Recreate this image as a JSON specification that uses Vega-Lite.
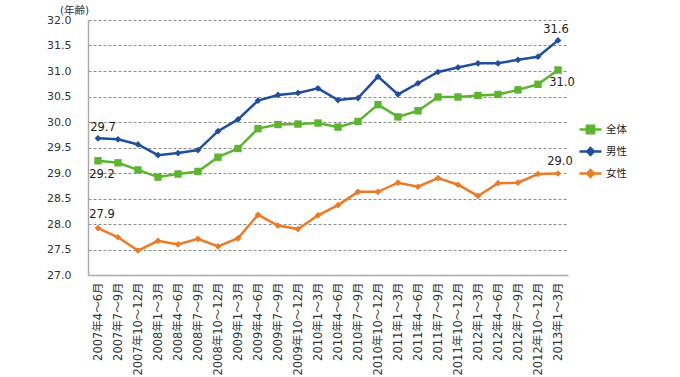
{
  "$schema": "https://vega.github.io/schema/vega-lite/v6.json",
  "width": 480,
  "height": 255,
  "autosize": "none",
  "padding": {"left": 88, "top": 20, "right": 112, "bottom": 102},
  "background": "white",
  "config": {
    "view": {"stroke": null},
    "font": "DejaVu Sans, Noto Sans CJK JP",
    "text": {"font": "DejaVu Sans, Noto Sans CJK JP"}
  },
  "data": {
    "values": [
      {"quarter": "2007年4～6月", "series": "全体", "value": 29.24},
      {"quarter": "2007年7～9月", "series": "全体", "value": 29.2},
      {"quarter": "2007年10～12月", "series": "全体", "value": 29.06},
      {"quarter": "2008年1～3月", "series": "全体", "value": 28.92},
      {"quarter": "2008年4～6月", "series": "全体", "value": 28.98},
      {"quarter": "2008年7～9月", "series": "全体", "value": 29.03},
      {"quarter": "2008年10～12月", "series": "全体", "value": 29.31},
      {"quarter": "2009年1～3月", "series": "全体", "value": 29.48},
      {"quarter": "2009年4～6月", "series": "全体", "value": 29.87},
      {"quarter": "2009年7～9月", "series": "全体", "value": 29.95},
      {"quarter": "2009年10～12月", "series": "全体", "value": 29.96},
      {"quarter": "2010年1～3月", "series": "全体", "value": 29.98},
      {"quarter": "2010年4～6月", "series": "全体", "value": 29.9},
      {"quarter": "2010年7～9月", "series": "全体", "value": 30.01},
      {"quarter": "2010年10～12月", "series": "全体", "value": 30.34},
      {"quarter": "2011年1～3月", "series": "全体", "value": 30.1},
      {"quarter": "2011年4～6月", "series": "全体", "value": 30.22},
      {"quarter": "2011年7～9月", "series": "全体", "value": 30.49},
      {"quarter": "2011年10～12月", "series": "全体", "value": 30.49},
      {"quarter": "2012年1～3月", "series": "全体", "value": 30.52},
      {"quarter": "2012年4～6月", "series": "全体", "value": 30.54},
      {"quarter": "2012年7～9月", "series": "全体", "value": 30.63},
      {"quarter": "2012年10～12月", "series": "全体", "value": 30.74},
      {"quarter": "2013年1～3月", "series": "全体", "value": 31.02},
      {"quarter": "2007年4～6月", "series": "男性", "value": 29.68},
      {"quarter": "2007年7～9月", "series": "男性", "value": 29.66},
      {"quarter": "2007年10～12月", "series": "男性", "value": 29.56},
      {"quarter": "2008年1～3月", "series": "男性", "value": 29.35},
      {"quarter": "2008年4～6月", "series": "男性", "value": 29.39},
      {"quarter": "2008年7～9月", "series": "男性", "value": 29.45},
      {"quarter": "2008年10～12月", "series": "男性", "value": 29.82},
      {"quarter": "2009年1～3月", "series": "男性", "value": 30.05},
      {"quarter": "2009年4～6月", "series": "男性", "value": 30.42},
      {"quarter": "2009年7～9月", "series": "男性", "value": 30.53},
      {"quarter": "2009年10～12月", "series": "男性", "value": 30.57},
      {"quarter": "2010年1～3月", "series": "男性", "value": 30.66},
      {"quarter": "2010年4～6月", "series": "男性", "value": 30.43},
      {"quarter": "2010年7～9月", "series": "男性", "value": 30.47},
      {"quarter": "2010年10～12月", "series": "男性", "value": 30.89},
      {"quarter": "2011年1～3月", "series": "男性", "value": 30.54},
      {"quarter": "2011年4～6月", "series": "男性", "value": 30.76},
      {"quarter": "2011年7～9月", "series": "男性", "value": 30.98},
      {"quarter": "2011年10～12月", "series": "男性", "value": 31.07},
      {"quarter": "2012年1～3月", "series": "男性", "value": 31.15},
      {"quarter": "2012年4～6月", "series": "男性", "value": 31.15},
      {"quarter": "2012年7～9月", "series": "男性", "value": 31.22},
      {"quarter": "2012年10～12月", "series": "男性", "value": 31.28},
      {"quarter": "2013年1～3月", "series": "男性", "value": 31.6},
      {"quarter": "2007年4～6月", "series": "女性", "value": 27.92},
      {"quarter": "2007年7～9月", "series": "女性", "value": 27.74},
      {"quarter": "2007年10～12月", "series": "女性", "value": 27.48},
      {"quarter": "2008年1～3月", "series": "女性", "value": 27.67},
      {"quarter": "2008年4～6月", "series": "女性", "value": 27.6},
      {"quarter": "2008年7～9月", "series": "女性", "value": 27.71},
      {"quarter": "2008年10～12月", "series": "女性", "value": 27.56},
      {"quarter": "2009年1～3月", "series": "女性", "value": 27.72},
      {"quarter": "2009年4～6月", "series": "女性", "value": 28.18},
      {"quarter": "2009年7～9月", "series": "女性", "value": 27.97},
      {"quarter": "2009年10～12月", "series": "女性", "value": 27.9},
      {"quarter": "2010年1～3月", "series": "女性", "value": 28.17},
      {"quarter": "2010年4～6月", "series": "女性", "value": 28.37},
      {"quarter": "2010年7～9月", "series": "女性", "value": 28.63},
      {"quarter": "2010年10～12月", "series": "女性", "value": 28.63},
      {"quarter": "2011年1～3月", "series": "女性", "value": 28.81},
      {"quarter": "2011年4～6月", "series": "女性", "value": 28.73},
      {"quarter": "2011年7～9月", "series": "女性", "value": 28.9},
      {"quarter": "2011年10～12月", "series": "女性", "value": 28.77},
      {"quarter": "2012年1～3月", "series": "女性", "value": 28.55},
      {"quarter": "2012年4～6月", "series": "女性", "value": 28.8},
      {"quarter": "2012年7～9月", "series": "女性", "value": 28.81},
      {"quarter": "2012年10～12月", "series": "女性", "value": 28.98},
      {"quarter": "2013年1～3月", "series": "女性", "value": 28.99}
    ]
  },
  "encoding": {
    "x": {
      "field": "quarter",
      "type": "ordinal",
      "sort": null,
      "scale": {"type": "point", "padding": 0.5},
      "axis": {
        "title": null,
        "labelAngle": -90,
        "labelFontSize": 11.5,
        "labelColor": "#333333",
        "labelPadding": 7,
        "ticks": false,
        "grid": false,
        "domainColor": "#aaaaaa",
        "domainWidth": 1.5
      }
    },
    "y": {
      "field": "value",
      "type": "quantitative",
      "scale": {"domain": [27, 32], "nice": false, "zero": false},
      "axis": {
        "values": [27, 27.5, 28, 28.5, 29, 29.5, 30, 30.5, 31, 31.5, 32],
        "format": ".1f",
        "title": "(年齢)",
        "titleAngle": 0,
        "titleX": -14,
        "titleY": -10,
        "titleAlign": "center",
        "titleBaseline": "middle",
        "titleFontSize": 10.5,
        "titleFontWeight": "normal",
        "titleColor": "#333333",
        "labelFontSize": 11,
        "labelColor": "#333333",
        "labelPadding": 17,
        "ticks": false,
        "grid": true,
        "gridColor": "#8c8c8c",
        "gridDash": [3, 2],
        "gridWidth": 1,
        "domainColor": "#aaaaaa",
        "domainWidth": 1.5
      }
    }
  },
  "layer": [
    {
      "mark": {"type": "line", "strokeWidth": 2.5},
      "encoding": {
        "color": {
          "field": "series",
          "type": "nominal",
          "scale": {"domain": ["全体", "男性", "女性"], "range": ["#5cb531", "#1f4e9c", "#ec7a24"]},
          "legend": {
            "title": null,
            "orient": "none",
            "legendX": 490,
            "legendY": 97,
            "symbolSize": 484,
            "symbolStrokeWidth": 2.5,
            "labelFontSize": 10.5,
            "labelColor": "#222222",
            "labelOffset": 3,
            "rowPadding": 0,
            "padding": 0,
            "encode": {
              "symbols": {
                "update": {
                  "shape": {"signal": "datum.value === '全体' ? 'M-1,0L1,0M-0.33,-0.33L0.33,-0.33L0.33,0.33L-0.33,0.33Z' : 'M-1,0L1,0M0,-0.32L0.3,0L0,0.32L-0.3,0Z'"},
                  "fill": {"signal": "scale('color', datum.value)"},
                  "stroke": {"signal": "scale('color', datum.value)"},
                  "strokeWidth": {"value": 2.5},
                  "size": {"value": 484}
                }
              }
            }
          }
        },
        "detail": {"field": "series"}
      }
    },
    {
      "transform": [{"filter": "datum.series === '全体'"}],
      "mark": {"type": "point", "filled": true, "opacity": 1, "shape": "square", "size": 55},
      "encoding": {
        "color": {"field": "series", "type": "nominal", "legend": null}
      }
    },
    {
      "transform": [{"filter": "datum.series !== '全体'"}],
      "mark": {"type": "point", "filled": true, "opacity": 1, "shape": "diamond", "size": 45},
      "encoding": {
        "color": {"field": "series", "type": "nominal", "legend": null}
      }
    },
    {
      "transform": [{"filter": "datum.series === '男性' && datum.quarter === '2007年4～6月'"}],
      "mark": {"type": "text", "fontSize": 11.5, "color": "#222222", "dx": 5, "dy": -7, "baseline": "alphabetic"},
      "encoding": {"text": {"field": "value", "type": "quantitative", "format": ".1f"}}
    },
    {
      "transform": [{"filter": "datum.series === '男性' && datum.quarter === '2013年1～3月'"}],
      "mark": {"type": "text", "fontSize": 11.5, "color": "#222222", "dx": -2, "dy": -7, "baseline": "alphabetic"},
      "encoding": {"text": {"field": "value", "type": "quantitative", "format": ".1f"}}
    },
    {
      "transform": [{"filter": "datum.series === '全体' && datum.quarter === '2007年4～6月'"}],
      "mark": {"type": "text", "fontSize": 11.5, "color": "#222222", "dx": 4, "dy": 17, "baseline": "alphabetic"},
      "encoding": {"text": {"field": "value", "type": "quantitative", "format": ".1f"}}
    },
    {
      "transform": [{"filter": "datum.series === '全体' && datum.quarter === '2013年1～3月'"}],
      "mark": {"type": "text", "fontSize": 11.5, "color": "#222222", "dx": 4, "dy": 16, "baseline": "alphabetic"},
      "encoding": {"text": {"field": "value", "type": "quantitative", "format": ".1f"}}
    },
    {
      "transform": [{"filter": "datum.series === '女性' && datum.quarter === '2007年4～6月'"}],
      "mark": {"type": "text", "fontSize": 11.5, "color": "#222222", "dx": 4, "dy": -10, "baseline": "alphabetic"},
      "encoding": {"text": {"field": "value", "type": "quantitative", "format": ".1f"}}
    },
    {
      "transform": [{"filter": "datum.series === '女性' && datum.quarter === '2013年1～3月'"}],
      "mark": {"type": "text", "fontSize": 11.5, "color": "#222222", "dx": 2, "dy": -9, "baseline": "alphabetic"},
      "encoding": {"text": {"field": "value", "type": "quantitative", "format": ".1f"}}
    }
  ]
}
